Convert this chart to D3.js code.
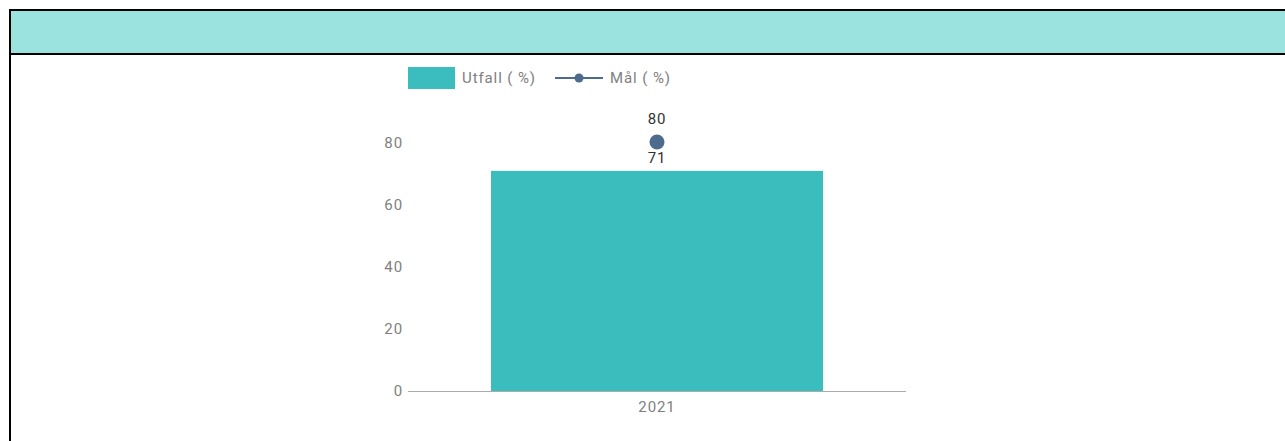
<!DOCTYPE html>
<html><head><meta charset="utf-8">
<script src="https://cdn.jsdelivr.net/npm/d3@7"></script>
<style>
html,body{margin:0;padding:0;background:#fff;}
svg{display:block;font-family:Roboto,"Noto Sans",sans-serif;}
svg text{letter-spacing:0.9px;}
</style></head>
<body>
<svg id="c" width="1285" height="441"></svg>
<script>
const categories = ["2021"];
const utfall = [71];
const mal = [80];
const yTicks = [0, 20, 40, 60, 80];
const legendLabels = ["Utfall ( %)", "Mål ( %)"];

const svg = d3.select("#c");
const FS = "15px";
const TXT = "#808080";
// frame & header
svg.append("rect").attr("x",10).attr("y",10).attr("width",1285).attr("height",44)
  .attr("fill","#9be3df").attr("stroke","#000").attr("stroke-width",2);
svg.append("line").attr("x1",10).attr("x2",10).attr("y1",10).attr("y2",441)
  .attr("stroke","#000").attr("stroke-width",2);

const x = d3.scaleBand().domain(categories).range([408,906]).padding(0.2);
const y = d3.scaleLinear().domain([0,80]).range([391,143]);

// y axis labels
const ya = svg.append("g").attr("transform","translate(408,0)")
  .call(d3.axisLeft(y).tickValues(yTicks).tickSize(0).tickPadding(5));
ya.select(".domain").remove();
ya.selectAll("text").attr("fill",TXT).style("font-size",FS).style("font-family","Roboto,sans-serif");

// x axis
const xa = svg.append("g").attr("transform","translate(0,391)")
  .call(d3.axisBottom(x).tickSize(0).tickPadding(10));
xa.select(".domain").attr("stroke","#aaa").attr("d","M408,0.5H906");
xa.selectAll("text").attr("fill",TXT).style("font-size",FS).style("font-family","Roboto,sans-serif");

// bars
svg.append("g").selectAll("rect").data(utfall).join("rect")
  .attr("x",(d,i)=>x(categories[i])).attr("width",x.bandwidth())
  .attr("y",d=>y(d)).attr("height",d=>y(0)-y(d)).attr("fill","#3bbdbd");

const cx = i => x(categories[i]) + x.bandwidth()/2;

// bar labels (drawn under the points)
svg.append("g").selectAll("text").data(utfall).join("text")
  .attr("x",(d,i)=>cx(i)).attr("y",d=>y(d)-8).attr("text-anchor","middle")
  .attr("fill","#333").style("font-size",FS).text(d=>d);

// line + points
svg.append("path").datum(mal)
  .attr("d", d3.line().x((d,i)=>cx(i)).y(d=>y(d)))
  .attr("fill","none").attr("stroke","#4d6b8c").attr("stroke-width",2);
svg.append("g").selectAll("circle").data(mal).join("circle")
  .attr("cx",(d,i)=>cx(i)).attr("cy",d=>y(d)-1).attr("r",7.5).attr("fill","#4d6b8c");

// point labels
svg.append("g").selectAll("text").data(mal).join("text")
  .attr("x",(d,i)=>cx(i)).attr("y",d=>y(d)-19).attr("text-anchor","middle")
  .attr("fill","#333").style("font-size",FS).text(d=>d);

// legend
const lg = svg.append("g");
lg.append("rect").attr("x",408).attr("y",67).attr("width",47).attr("height",22).attr("fill","#3bbdbd");
lg.append("text").attr("x",462).attr("y",83).attr("fill",TXT).style("font-size",FS).text(legendLabels[0]);
lg.append("line").attr("x1",555).attr("x2",603).attr("y1",78).attr("y2",78).attr("stroke","#4d6b8c").attr("stroke-width",2);
lg.append("circle").attr("cx",579).attr("cy",78).attr("r",4.5).attr("fill","#4d6b8c");
lg.append("text").attr("x",610).attr("y",83).attr("fill",TXT).style("font-size",FS).text(legendLabels[1]);
</script>
</body></html>
